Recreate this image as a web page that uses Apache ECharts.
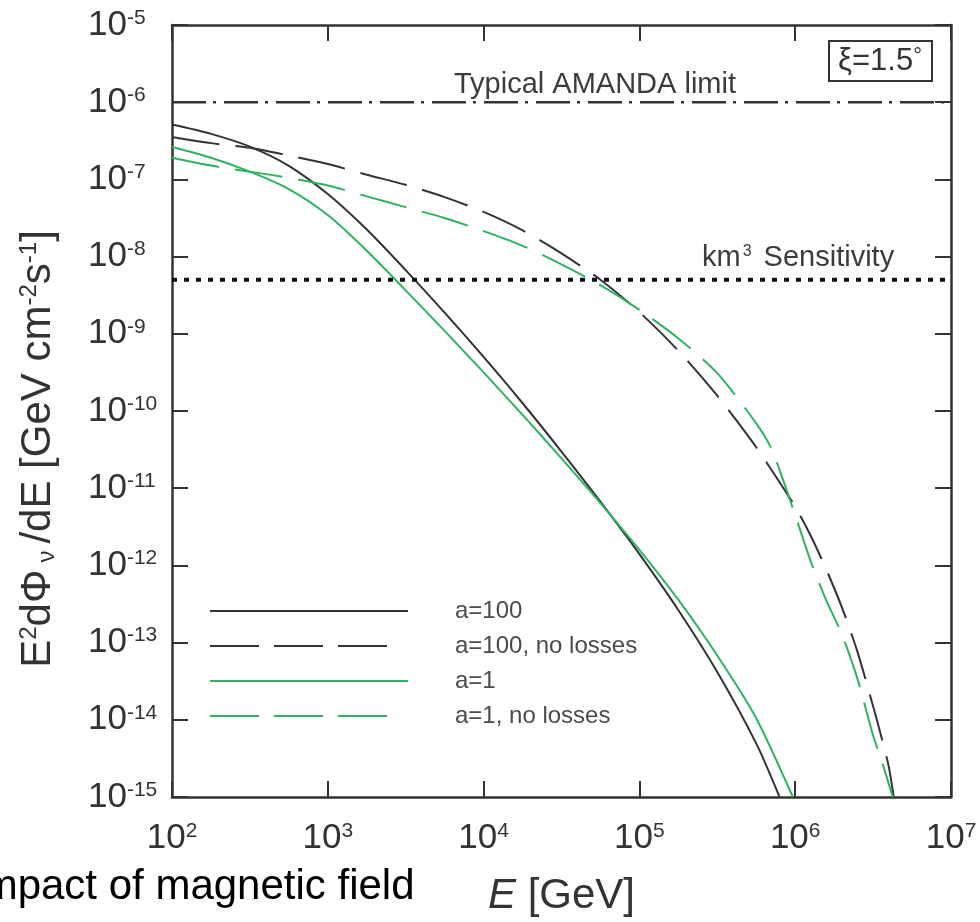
<!DOCTYPE html>
<html>
<head>
<meta charset="utf-8">
<script src="https://cdn.jsdelivr.net/npm/echarts@6/dist/echarts.min.js"></script>
<style>
  html, body { margin: 0; padding: 0; background: #fff; }
  #chart { width: 980px; height: 922px; }
</style>
</head>
<body>
<div id="chart"></div>
<script>
// Neutrino flux E^2 dPhi/dE versus energy, xi = 1.5 deg
const energyA100 = [1e2, 1.78e2, 3.16e2, 5.62e2, 1e3, 1.78e3, 3.16e3, 5.62e3, 1e4, 1.78e4, 3.16e4, 5.62e4, 1e5, 1.78e5, 3.16e5, 5.62e5, 7.94e5];
const fluxA100 = [5.13e-7, 3.89e-7, 2.66e-7, 1.50e-7, 6.46e-8, 2.24e-8, 6.68e-9, 1.88e-9, 5.01e-10, 1.26e-10, 2.98e-11, 6.68e-12, 1.40e-12, 2.63e-13, 4.17e-14, 4.95e-15, 1.0e-15];

const energyA100NoLoss = [1e2, 1.78e2, 3.16e2, 5.62e2, 1e3, 1.78e3, 3.16e3, 5.62e3, 1e4, 1.78e4, 3.16e4, 5.62e4, 1e5, 1.78e5, 3.16e5, 5.62e5, 1e6, 1.26e6, 1.58e6, 2.0e6, 2.51e6, 3.16e6, 3.55e6, 3.98e6, 4.29e6];
const fluxA100NoLoss = [3.55e-7, 2.95e-7, 2.57e-7, 2.04e-7, 1.58e-7, 1.15e-7, 8.51e-8, 5.89e-8, 3.80e-8, 2.19e-8, 1.10e-8, 5.01e-9, 1.91e-9, 6.03e-10, 1.58e-10, 3.39e-11, 5.75e-12, 2.40e-12, 8.91e-13, 2.82e-13, 7.59e-14, 1.51e-14, 6.31e-15, 2.51e-15, 1.0e-15];

const energyA1 = [1e2, 1.78e2, 3.16e2, 5.62e2, 1e3, 1.78e3, 3.16e3, 5.62e3, 1e4, 1.78e4, 3.16e4, 5.62e4, 1e5, 1.78e5, 3.16e5, 5.62e5, 9.66e5];
const fluxA1 = [2.63e-7, 1.91e-7, 1.26e-7, 7.50e-8, 3.45e-8, 1.19e-8, 3.65e-9, 1.09e-9, 3.16e-10, 8.91e-11, 2.44e-11, 6.42e-12, 1.59e-12, 3.57e-13, 6.80e-14, 1.05e-14, 1.0e-15];

const energyA1NoLoss = [1e2, 1.78e2, 3.16e2, 5.62e2, 1e3, 1.78e3, 3.16e3, 5.62e3, 1e4, 1.78e4, 3.16e4, 5.62e4, 1e5, 1.78e5, 3.16e5, 5.62e5, 7.08e5, 1e6, 1.26e6, 1.58e6, 2.0e6, 2.51e6, 3.16e6, 3.55e6, 4.23e6];
const fluxA1NoLoss = [1.91e-7, 1.51e-7, 1.26e-7, 1.05e-7, 8.32e-8, 6.03e-8, 4.37e-8, 3.16e-8, 2.14e-8, 1.38e-8, 7.94e-9, 4.27e-9, 2.04e-9, 8.71e-10, 3.09e-10, 6.92e-11, 3.16e-11, 4.47e-12, 1.12e-12, 3.55e-13, 1.26e-13, 3.39e-14, 6.31e-15, 3.16e-15, 1.0e-15];

const seriesNames = ['a=100', 'a=100, no losses', 'a=1', 'a=1, no losses'];
const energyRange = [1e2, 1e7];
const fluxRange = [1e-15, 1e-5];
const amandaLimit = 1e-6;
const km3Sensitivity = 5e-9;

const FONT = "'Liberation Sans', Arial, sans-serif";
const DARK = '#333333';
const LABEL = '#3c3c3c';
const GREEN = '#2fb262';
const DASH = [48, 16];
const LEGEND_DASH = [49, 15, 49, 15, 49, 80];

function pairs(xs, ys) { return xs.map((x, i) => [x, ys[i]]); }
function powLabel(v) { return '{b|10}{s|' + Math.round(Math.log10(v)) + '}'; }

const tickRich = {
  b: { fontSize: 35, fontFamily: FONT, color: DARK },
  s: { fontSize: 21, fontFamily: FONT, color: DARK, verticalAlign: 'top' }
};

function frameAxis(extra) {
  return Object.assign({
    type: 'log', logBase: 10, interval: 1,
    axisLine: { show: true, lineStyle: { color: DARK, width: 2.5 } },
    axisTick: { show: true, inside: true, length: 16, lineStyle: { color: DARK, width: 2 } },
    splitLine: { show: false },
    minorTick: { show: false }
  }, extra);
}

function curve(name, xs, ys, color, dashed) {
  return {
    name: name, type: 'line', symbol: 'none', smooth: 0.25,
    data: pairs(xs, ys),
    lineStyle: { color: color, width: 2, type: dashed ? DASH : 'solid' },
    itemStyle: { color: color }
  };
}

const chart = echarts.init(document.getElementById('chart'), null, { renderer: 'canvas' });

chart.setOption({
  animation: false,
  backgroundColor: '#ffffff',
  grid: { left: 172, right: 29, top: 25, bottom: 125, containLabel: false },
  xAxis: [
    frameAxis({
      position: 'bottom', min: energyRange[0], max: energyRange[1],
      axisLabel: { formatter: powLabel, rich: tickRich, margin: 24 },
      name: '{i|E} [GeV]', nameLocation: 'middle', nameGap: 78,
      nameTextStyle: {
        fontSize: 42, fontFamily: FONT, color: DARK,
        rich: { i: { fontSize: 42, fontFamily: FONT, color: DARK, fontStyle: 'italic' } }
      }
    }),
    frameAxis({
      position: 'top', min: energyRange[0], max: energyRange[1],
      axisLabel: { show: false }
    })
  ],
  yAxis: [
    frameAxis({
      position: 'left', min: fluxRange[0], max: fluxRange[1],
      axisLabel: { formatter: powLabel, rich: tickRich, align: 'left', margin: 84 }
    }),
    frameAxis({
      position: 'right', min: fluxRange[0], max: fluxRange[1],
      axisLabel: { show: false }
    })
  ],
  legend: {
    orient: 'vertical', left: 204, top: 594,
    itemWidth: 198, itemHeight: 14, itemGap: 11,
    itemStyle: { color: 'transparent', borderWidth: 0, opacity: 0 },
    textStyle: { fontSize: 24, fontFamily: FONT, color: '#4a4a4a', padding: [0, 0, 0, 42] },
    data: [
      { name: seriesNames[0] },
      { name: seriesNames[1], lineStyle: { type: LEGEND_DASH } },
      { name: seriesNames[2] },
      { name: seriesNames[3], lineStyle: { type: LEGEND_DASH } }
    ]
  },
  series: [
    curve(seriesNames[0], energyA100, fluxA100, DARK, false),
    curve(seriesNames[1], energyA100NoLoss, fluxA100NoLoss, DARK, true),
    curve(seriesNames[2], energyA1, fluxA1, GREEN, false),
    curve(seriesNames[3], energyA1NoLoss, fluxA1NoLoss, GREEN, true),
    {
      name: 'AMANDA', type: 'line', symbol: 'none', silent: true,
      data: energyRange.map(e => [e, amandaLimit]),
      lineStyle: { color: DARK, width: 2.5, type: [34, 7, 3, 8] }
    },
    {
      name: 'km3', type: 'line', symbol: 'none', silent: true,
      data: energyRange.map(e => [e, km3Sensitivity]),
      lineStyle: { color: '#111', width: 4, type: [5, 7] }
    }
  ],
  graphic: [
    {
      type: 'text', x: 38, y: 449, rotation: Math.PI / 2,
      style: {
        text: 'E{s|2}dΦ{d|ν}/dE [GeV cm{s|-2}s{s|-1}]',
        fontSize: 42, fontFamily: FONT, fill: DARK,
        align: 'center', verticalAlign: 'middle',
        rich: {
          s: { fontSize: 24, fontFamily: FONT, fill: DARK, verticalAlign: 'top' },
          d: { fontSize: 24, fontFamily: FONT, fill: DARK, verticalAlign: 'bottom', padding: [0, 7, 0, 7] }
        }
      }
    },
    {
      type: 'text', x: 454, y: 85,
      style: { text: 'Typical AMANDA limit', fontSize: 29, fontFamily: FONT, fill: LABEL, verticalAlign: 'middle' }
    },
    {
      type: 'text', x: 702, y: 258,
      style: {
        text: 'km{s|3} Sensitivity', fontSize: 29, fontFamily: FONT, fill: LABEL, verticalAlign: 'middle',
        rich: { s: { fontSize: 16, fontFamily: FONT, fill: LABEL, verticalAlign: 'top', padding: [0, 4, 0, 2] } }
      }
    },
    {
      type: 'rect', shape: { x: 829, y: 41, width: 103, height: 40 },
      style: { fill: '#fff', stroke: DARK, lineWidth: 2 }
    },
    {
      type: 'text', x: 880, y: 61,
      style: {
        text: 'ξ=1.5{s|°}', fontSize: 31, fontFamily: FONT, fill: DARK, align: 'center', verticalAlign: 'middle',
        rich: { s: { fontSize: 22, fontFamily: FONT, fill: DARK, verticalAlign: 'top' } }
      }
    },
    {
      type: 'text', x: -29, y: 887,
      style: { text: 'Impact of magnetic field', fontSize: 42, fontFamily: FONT, fill: '#000', verticalAlign: 'middle' }
    }
  ]
});
</script>
</body>
</html>
